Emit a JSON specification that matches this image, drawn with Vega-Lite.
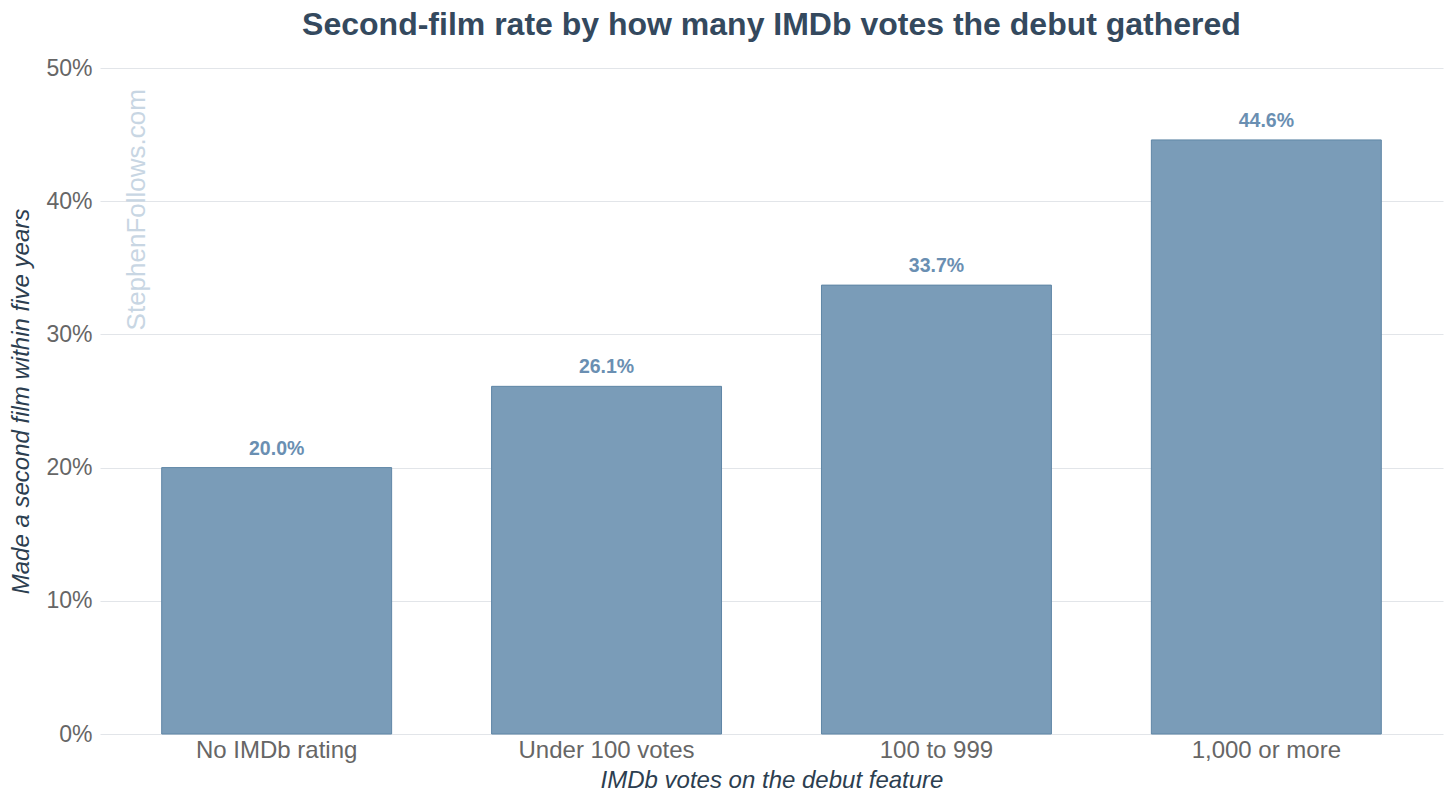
{
  "$schema": "https://vega.github.io/schema/vega-lite/v6.json",
  "width": 1343,
  "height": 666,
  "autosize": {"type": "none"},
  "padding": {"left": 100, "top": 68, "right": 13, "bottom": 74},
  "background": "white",
  "config": {
    "font": "Liberation Sans",
    "view": {"stroke": null},
    "axis": {"labelFont": "Liberation Sans", "titleFont": "Liberation Sans"}
  },
  "title": {
    "text": "Second-film rate by how many IMDb votes the debut gathered",
    "fontSize": 32,
    "fontWeight": "bold",
    "color": "#34495e",
    "anchor": "middle",
    "offset": 15
  },
  "data": {
    "values": [
      {"group": "No IMDb rating", "rate": 0.200},
      {"group": "Under 100 votes", "rate": 0.261},
      {"group": "100 to 999", "rate": 0.337},
      {"group": "1,000 or more", "rate": 0.446}
    ]
  },
  "encoding": {
    "x": {
      "field": "group",
      "type": "nominal",
      "sort": null,
      "scale": {"paddingInner": 0.303, "paddingOuter": 0.187},
      "axis": {
        "title": "IMDb votes on the debut feature",
        "titleFontSize": 24,
        "titleFontStyle": "italic",
        "titleFontWeight": "normal",
        "titleColor": "#2c3e50",
        "titlePadding": 6,
        "labelAngle": 0,
        "labelFontSize": 24,
        "labelColor": "#666666",
        "labelPadding": 4,
        "ticks": false,
        "domain": false
      }
    },
    "y": {
      "field": "rate",
      "type": "quantitative",
      "scale": {"domain": [0, 0.5]},
      "axis": {
        "title": "Made a second film within five years",
        "titleFontSize": 24,
        "titleFontStyle": "italic",
        "titleFontWeight": "normal",
        "titleColor": "#2c3e50",
        "titlePadding": 12,
        "format": ".0%",
        "values": [0, 0.1, 0.2, 0.3, 0.4, 0.5],
        "labelFontSize": 23,
        "labelColor": "#666666",
        "labelPadding": 8,
        "ticks": false,
        "domain": false,
        "grid": true,
        "gridColor": "#e2e5e9",
        "gridWidth": 1
      }
    }
  },
  "layer": [
    {
      "mark": {"type": "bar", "color": "#7a9cb8", "stroke": "#5f86a6", "strokeWidth": 1}
    },
    {
      "mark": {
        "type": "text",
        "baseline": "bottom",
        "dy": -9,
        "fontSize": 19.5,
        "fontWeight": "bold",
        "color": "#6a8fb2"
      },
      "encoding": {
        "text": {"field": "rate", "type": "quantitative", "format": ".1%"}
      }
    },
    {
      "data": {"values": [{"mark": "StephenFollows.com", "anchorGroup": "No IMDb rating", "anchorRate": 0.303}]},
      "mark": {
        "type": "text",
        "angle": 270,
        "align": "left",
        "baseline": "middle",
        "fontSize": 26,
        "color": "#c8d6e3"
      },
      "encoding": {
        "x": {"field": "anchorGroup", "type": "nominal", "bandPosition": 0},
        "y": {"field": "anchorRate", "type": "quantitative"},
        "text": {"field": "mark"},
        "xOffset": {"value": -25}
      }
    }
  ]
}
